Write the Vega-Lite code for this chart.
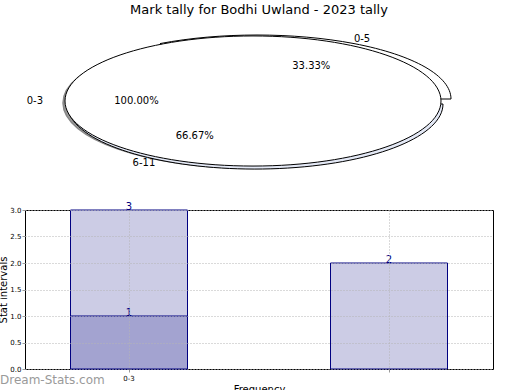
{
  "$schema": "https://vega.github.io/schema/vega-lite/v6.json",
  "autosize": {"type": "pad"},
  "padding": {"left": -2, "top": 4, "right": 0, "bottom": 0},
  "bounds": "flush",
  "spacing": 25,
  "background": "white",
  "config": {
    "font": "DejaVu Sans",
    "view": {"stroke": "black", "strokeWidth": 1}
  },
  "vconcat": [
    {
      "width": 468,
      "height": 160,
      "view": {"stroke": null},
      "title": {"text": "Mark tally for Bodhi Uwland - 2023 tally", "fontSize": 13, "fontWeight": "normal", "anchor": "middle", "frame": "group", "offset": 8, "color": "black"},
      "data": {"values": [
        {"slice": "0-3", "share": 100},
        {"slice": "0-5", "share": 33.33},
        {"slice": "6-11", "share": 66.67}
      ]},
      "transform": [
        {"window": [{"op": "sum", "field": "share", "as": "cum"}], "sort": [{"field": "slice", "order": "ascending"}]},
        {"calculate": "(datum.cum - datum.share / 2) * PI / 50", "as": "ang"},
        {"calculate": "1.16 * cos(datum.ang)", "as": "ox"},
        {"calculate": "1.1 * sin(datum.ang)", "as": "oy"},
        {"calculate": "0.62 * cos(datum.ang)", "as": "ix"},
        {"calculate": "0.63 * sin(datum.ang)", "as": "iy"},
        {"calculate": "format(datum.share, '.2f') + '%'", "as": "pctLabel"}
      ],
      "layer": [
        {
          "transform": [{"filter": "datum.slice == '0-3'"}],
          "mark": {"type": "point", "shape": "M -1 0 A 1 0.346 0 1 1 1 0 A 1 0.346 0 1 1 -1 0 Z", "size": 141376, "filled": true, "fill": "#9a9a9a", "stroke": "#888888", "strokeWidth": 1.5, "opacity": 1, "xOffset": -2, "yOffset": 2},
          "encoding": {
            "x": {"datum": 0, "type": "quantitative", "scale": {"domain": [-1.2128, 1.2766], "nice": false, "zero": false}, "axis": null},
            "y": {"datum": 0, "type": "quantitative", "scale": {"domain": [-1.2923, 1.1692], "nice": false, "zero": false}, "axis": null}
          }
        },
        {
          "transform": [{"filter": "datum.slice == '6-11'"}],
          "mark": {"type": "point", "shape": "M 0.0106 0.016 L 1.0106 0.016 A 1 0.346 0 1 1 -0.4894 -0.2836 Z", "size": 141376, "filled": true, "fill": "#e4e9f6", "stroke": "black", "strokeWidth": 1, "opacity": 1},
          "encoding": {
            "x": {"datum": 0, "type": "quantitative", "scale": {"domain": [-1.2128, 1.2766], "nice": false, "zero": false}, "axis": null},
            "y": {"datum": 0, "type": "quantitative", "scale": {"domain": [-1.2923, 1.1692], "nice": false, "zero": false}, "axis": null}
          }
        },
        {
          "transform": [{"filter": "datum.slice == '0-5'"}],
          "mark": {"type": "point", "shape": "M 0.0213 -0.0106 L 1.0532 -0.0106 A 1.0319 0.3404 0 0 0 -0.4947 -0.3054 Z", "size": 141376, "filled": true, "fill": "white", "stroke": "black", "strokeWidth": 1, "opacity": 1},
          "encoding": {
            "x": {"datum": 0, "type": "quantitative", "scale": {"domain": [-1.2128, 1.2766], "nice": false, "zero": false}, "axis": null},
            "y": {"datum": 0, "type": "quantitative", "scale": {"domain": [-1.2923, 1.1692], "nice": false, "zero": false}, "axis": null}
          }
        },
        {
          "transform": [{"filter": "datum.slice == '0-3'"}],
          "mark": {"type": "point", "shape": "M -1 0 A 1 0.346 0 1 1 1 0 A 1 0.346 0 1 1 -1 0 Z", "size": 141376, "filled": true, "fill": "white", "stroke": "black", "strokeWidth": 1, "opacity": 1},
          "encoding": {
            "x": {"datum": 0, "type": "quantitative", "scale": {"domain": [-1.2128, 1.2766], "nice": false, "zero": false}, "axis": null},
            "y": {"datum": 0, "type": "quantitative", "scale": {"domain": [-1.2923, 1.1692], "nice": false, "zero": false}, "axis": null}
          }
        },
        {
          "mark": {"type": "text", "fontSize": 10, "color": "black", "baseline": "middle", "align": "center"},
          "encoding": {
            "x": {"field": "ox", "type": "quantitative", "scale": {"domain": [-1.2128, 1.2766], "nice": false, "zero": false}, "axis": null},
            "y": {"field": "oy", "type": "quantitative", "scale": {"domain": [-1.2923, 1.1692], "nice": false, "zero": false}, "axis": null},
            "text": {"field": "slice"}
          }
        },
        {
          "mark": {"type": "text", "fontSize": 10, "color": "black", "baseline": "middle", "align": "center"},
          "encoding": {
            "x": {"field": "ix", "type": "quantitative", "scale": {"domain": [-1.2128, 1.2766], "nice": false, "zero": false}, "axis": null},
            "y": {"field": "iy", "type": "quantitative", "scale": {"domain": [-1.2923, 1.1692], "nice": false, "zero": false}, "axis": null},
            "text": {"field": "pctLabel"}
          }
        }
      ]
    },
    {
      "width": 468,
      "height": 159,
      "title": {"text": "Dream-Stats.com", "orient": "bottom", "anchor": "start", "frame": "group", "dx": -25, "dy": -19, "offset": 0, "fontSize": 12, "fontWeight": "normal", "color": "#9a9a9a"},
      "data": {"values": [
        {"interval": "0-3", "series": "total", "count": 3},
        {"interval": "0-3", "series": "part", "count": 1},
        {"interval": "6-11", "series": "total", "count": 2}
      ]},
      "encoding": {
        "x": {
          "field": "interval", "type": "nominal", "sort": null, "title": "Frequency",
          "scale": {"paddingInner": 0.55, "paddingOuter": 0.175},
          "axis": {"labelFontSize": 7, "titleFontSize": 10, "titleFontWeight": "normal", "titleColor": "black", "labelColor": "black", "labelAngle": 0, "tickSize": 3, "labelPadding": 2, "titlePadding": 3, "grid": true, "gridDash": [1, 2], "gridColor": "#b4b4b4", "bandPosition": 0.5, "domain": false, "zindex": 1, "tickColor": "#999999", "labelExpr": "datum.value == '0-3' ? datum.label : ''"}
        },
        "y": {
          "field": "count", "type": "quantitative", "stack": null, "title": "Stat intervals",
          "scale": {"domain": [0, 3], "nice": false},
          "axis": {"values": [0, 0.5, 1, 1.5, 2, 2.5, 3], "format": ".1f", "labelFontSize": 7, "titleFontSize": 10, "titleFontWeight": "normal", "titleColor": "black", "labelColor": "black", "tickSize": 3, "labelPadding": 1, "titlePadding": 1, "grid": true, "gridDash": [1, 2], "gridColor": "#b4b4b4", "domain": false, "zindex": 1, "tickColor": "#999999"}
        }
      },
      "layer": [
        {
          "mark": {"type": "bar", "stroke": "#000080", "strokeWidth": 1, "opacity": 1},
          "encoding": {
            "color": {"field": "series", "type": "nominal", "scale": {"domain": ["total", "part"], "range": ["#ccccE5", "#a3a3d0"]}, "legend": null}
          }
        },
        {
          "mark": {"type": "text", "fontSize": 10, "color": "#000080", "baseline": "middle", "dy": -3},
          "encoding": {"text": {"field": "count", "type": "quantitative"}}
        }
      ]
    }
  ]
}
